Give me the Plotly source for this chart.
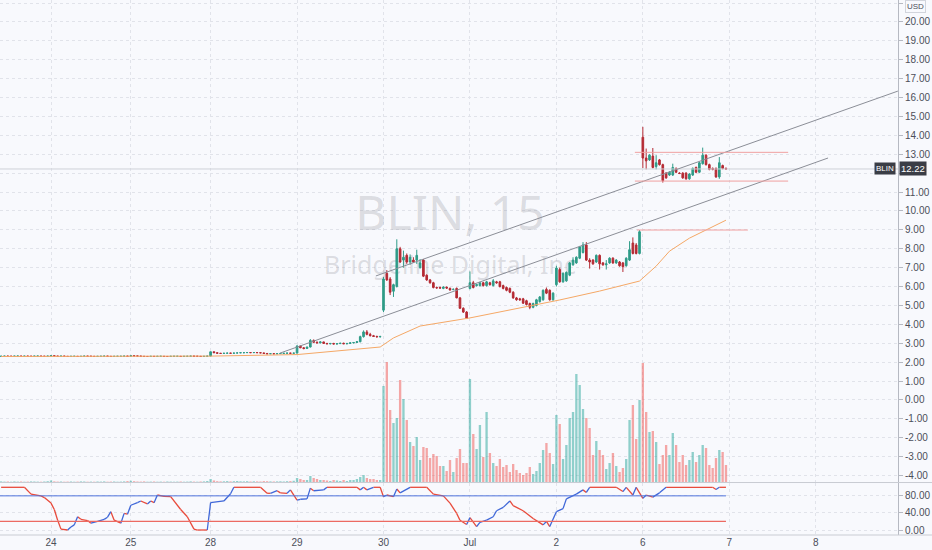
import plotly.graph_objects as go

# ---------------- time axis ----------------
day_start_bars = [0, 24, 48, 74, 100, 126, 152, 178, 204, 230]
day_labels = ["24", "25", "28", "29", "30", "Jul", "2", "6", "7", "8"]
first_bar = -15

# ---------------- price axis ticks ----------------
price_ticks = [-4, -3, -2, -1, 0, 1, 2, 3, 4, 5, 6, 7, 8, 9, 10, 11, 12, 13, 14, 15, 16, 17, 18, 19, 20, 21]
hidden_price_tick = 12   # covered by the last-price label

# ---------------- quiet sessions (closes only) ----------------
close_jun23 = [2.31, 2.32, 2.31, 2.31, 2.32, 2.32, 2.31, 2.32, 2.31, 2.31, 2.32, 2.32, 2.31, 2.31, 2.32]
close_jun24 = [2.34, 2.32, 2.31, 2.32, 2.31, 2.30, 2.31, 2.31, 2.30, 2.31, 2.32, 2.31,
               2.31, 2.30, 2.31, 2.31, 2.32, 2.31, 2.30, 2.31, 2.31, 2.31, 2.32, 2.31]
close_jun25 = [2.34, 2.33, 2.32, 2.31, 2.30, 2.30, 2.31, 2.30, 2.31, 2.31, 2.30, 2.30,
               2.31, 2.31, 2.31, 2.30, 2.31, 2.31, 2.32, 2.31, 2.31, 2.30, 2.31, 2.32]
close_jun28 = [2.55, 2.50, 2.47, 2.46, 2.47, 2.48, 2.47, 2.48, 2.49, 2.50, 2.50, 2.51, 2.50,
               2.51, 2.50, 2.49, 2.46, 2.44, 2.45, 2.44, 2.45, 2.46, 2.47, 2.48, 2.47, 2.48]

# ---------------- active sessions OHLC ----------------
jun29_open = [2.48, 2.85, 2.76, 2.72, 2.80, 3.15, 3.05, 3.02, 3.07, 2.99, 2.97, 2.99, 2.96,
              2.98, 3.00, 2.97, 2.99, 3.02, 3.04, 3.08, 3.35, 3.60, 3.47, 3.40, 3.36, 3.34]
jun29_high = [2.90, 2.88, 2.80, 2.82, 3.22, 3.20, 3.10, 3.10, 3.08, 3.02, 3.01, 3.02, 3.00,
              3.02, 3.03, 3.00, 3.04, 3.06, 3.12, 3.40, 3.68, 3.70, 3.55, 3.44, 3.40, 3.39]
jun29_low = [2.46, 2.74, 2.68, 2.70, 2.78, 3.02, 2.98, 3.00, 2.97, 2.95, 2.94, 2.95, 2.93,
             2.96, 2.96, 2.94, 2.97, 2.99, 3.01, 3.05, 3.30, 3.42, 3.36, 3.33, 3.31, 3.30]
jun29_close = [2.85, 2.76, 2.72, 2.80, 3.15, 3.05, 3.02, 3.07, 2.99, 2.97, 2.99, 2.96, 2.98,
               3.00, 2.97, 2.99, 3.02, 3.04, 3.08, 3.35, 3.60, 3.47, 3.40, 3.36, 3.34, 3.36]

jun30_open = [4.75, 6.70, 6.40, 5.75, 6.00, 8.00, 7.40, 7.65, 7.30, 7.40, 7.40, 7.00, 7.40,
              6.60, 6.35, 6.20, 5.95, 5.95, 5.90, 5.97, 5.90, 5.85, 5.90, 5.40, 4.85, 4.65]
jun30_high = [6.50, 6.87, 6.50, 6.15, 8.50, 8.10, 7.90, 7.75, 7.70, 7.55, 7.95, 7.45, 7.45,
              6.65, 6.40, 6.25, 6.00, 6.00, 6.02, 6.00, 5.95, 5.90, 5.95, 5.45, 4.90, 4.70]
jun30_low = [4.65, 6.30, 5.55, 5.45, 5.95, 7.25, 7.00, 7.20, 7.15, 7.25, 7.20, 6.95, 6.50,
             6.30, 6.15, 5.90, 5.88, 5.88, 5.86, 5.88, 5.78, 5.80, 5.38, 4.82, 4.60, 4.28]
jun30_close = [6.40, 6.35, 5.70, 6.10, 8.00, 7.30, 7.55, 7.30, 7.55, 7.30, 7.65, 7.25, 6.55,
               6.35, 6.20, 5.95, 5.93, 5.92, 5.97, 5.92, 5.82, 5.85, 5.40, 4.85, 4.65, 4.32]

jul1_open = [5.90, 6.20, 6.05, 6.05, 6.20, 6.05, 6.20, 6.05, 6.25, 6.25, 6.05, 5.95, 5.90,
             5.70, 5.40, 5.35, 5.35, 5.25, 5.10, 4.90, 5.00, 5.20, 5.30, 5.85, 5.80, 5.30]
jul1_high = [6.80, 6.30, 6.15, 6.25, 6.25, 6.30, 6.25, 6.40, 6.30, 6.30, 6.10, 6.00, 5.95,
             5.75, 5.45, 5.40, 5.40, 5.30, 5.15, 5.15, 5.35, 5.50, 5.85, 5.95, 5.85, 5.70]
jul1_low = [5.85, 5.90, 6.00, 6.00, 6.00, 6.00, 6.05, 6.00, 6.15, 5.95, 5.85, 5.75, 5.65,
            5.35, 5.25, 5.25, 5.08, 5.00, 4.80, 4.85, 4.95, 5.15, 5.25, 5.60, 5.25, 5.25]
jul1_close = [6.20, 5.95, 6.10, 6.20, 6.05, 6.25, 6.10, 6.30, 6.20, 6.00, 5.90, 5.80, 5.70,
              5.40, 5.30, 5.30, 5.12, 5.05, 4.90, 5.10, 5.30, 5.45, 5.80, 5.65, 5.30, 5.65]

jul2_open = [6.10, 6.90, 6.25, 6.30, 6.60, 7.15, 7.25, 7.50, 7.80, 8.20, 7.40, 7.40, 7.30,
             7.65, 7.25, 7.15, 7.25, 7.50, 7.25, 7.30, 7.25, 7.10, 7.40, 8.30, 8.20, 7.75]
jul2_high = [7.10, 7.00, 6.75, 6.80, 7.30, 7.55, 7.60, 8.15, 8.35, 8.35, 7.50, 7.45, 7.70,
             7.70, 7.30, 7.40, 7.55, 7.55, 7.45, 7.35, 7.30, 7.55, 8.40, 8.60, 8.30, 8.99]
jul2_low = [6.00, 6.20, 6.20, 6.25, 6.55, 7.10, 7.20, 7.45, 7.75, 7.35, 6.95, 7.15, 7.25,
            6.90, 7.10, 6.90, 7.20, 7.20, 7.20, 7.05, 6.77, 7.05, 7.35, 7.70, 7.70, 7.70]
jul2_close = [6.98, 6.25, 6.70, 6.75, 7.25, 7.40, 7.55, 8.10, 8.20, 7.40, 7.30, 7.20, 7.65,
              7.20, 7.15, 7.20, 7.50, 7.25, 7.40, 7.10, 7.05, 7.50, 7.95, 7.75, 7.75, 8.90]

jul6_open = [13.90, 12.80, 12.70, 12.90, 12.35, 12.70, 12.45, 12.00, 11.90, 11.90, 12.25, 12.00, 12.00,
             12.00, 11.70, 11.90, 12.30, 12.05, 12.50, 12.95, 12.45, 12.25, 12.25, 11.80, 12.40, 12.25]
jul6_high = [14.45, 13.30, 13.00, 13.33, 12.95, 12.75, 12.50, 12.05, 12.10, 12.50, 12.30, 12.05, 12.05,
             12.05, 12.00, 12.30, 12.35, 12.60, 13.35, 13.00, 12.50, 12.30, 12.30, 12.85, 12.45, 12.30]
jul6_low = [12.27, 12.20, 12.65, 12.25, 12.20, 12.40, 11.50, 11.70, 11.85, 11.85, 12.00, 11.95, 11.70,
            11.65, 11.65, 11.85, 12.00, 12.00, 12.45, 12.40, 12.15, 12.15, 11.75, 11.70, 12.20, 12.18]
jul6_close = [12.80, 12.65, 12.95, 12.30, 12.55, 12.45, 11.60, 11.75, 12.05, 12.30, 12.05, 11.98, 11.75,
              11.70, 11.95, 12.25, 12.05, 12.55, 12.95, 12.45, 12.20, 12.20, 11.80, 12.55, 12.25, 12.22]

# ---------------- volume (relative units) ----------------
vol_jun23 = [0.6, 0.4, 0.5, 0.3, 0.6, 0.4, 0.5, 0.3, 0.4, 0.6, 0.5, 0.4, 0.3, 0.5, 0.8]
vol_jun24 = [1.5, 0.6, 0.4, 0.5, 0.3, 0.4, 0.5, 0.3, 0.4, 0.6, 0.5, 0.3,
             0.4, 0.3, 0.5, 0.4, 0.6, 0.3, 0.4, 0.5, 0.3, 0.4, 0.6, 0.9]
vol_jun25 = [1.2, 0.8, 0.5, 0.4, 0.6, 0.3, 0.4, 0.5, 0.3, 0.4, 0.3, 0.5,
             0.4, 0.3, 0.4, 0.5, 0.3, 0.4, 0.6, 0.4, 0.3, 0.5, 0.6, 1.0]
vol_jun28 = [3.0, 1.5, 0.8, 0.6, 0.7, 0.9, 0.6, 0.8, 1.0, 0.7, 0.6, 0.8, 0.5,
             0.7, 0.6, 0.5, 0.9, 0.8, 0.6, 0.5, 0.6, 0.7, 0.5, 0.8, 0.9, 1.2]
vol_jun29 = [4, 3, 2, 2, 6, 4, 3, 2, 2, 1.5, 1, 2, 1.5, 1, 2, 1, 2, 2, 3, 5, 7, 4, 3, 3, 2, 2]
vol_jun30 = [96, 120, 72, 59, 64, 102, 83, 62, 40, 36, 45, 22, 35, 34, 24, 28, 26, 16, 16, 11, 22, 10, 24, 33, 19, 19]
vol_jul1 = [103, 48, 33, 57, 25, 70, 29, 19, 16, 23, 15, 17, 10, 18, 12, 9, 7, 9, 15, 8, 11, 19, 32, 39, 29, 18]
vol_jul2 = [67, 58, 23, 37, 64, 70, 108, 97, 73, 64, 54, 27, 41, 32, 27, 13, 19, 29, 16, 10, 14, 23, 62, 77, 43, 82]
vol_jul6 = [119, 70, 50, 51, 40, 18, 27, 37, 27, 49, 37, 20, 27, 17, 22, 30, 20, 27, 37, 34, 17, 14, 24, 32, 30, 17]

# ---------------- moving average ----------------
ma_bar = [-15, 48, 74, 99, 103, 111, 126, 141, 153, 165, 177, 182, 186, 192, 198, 203]
ma_val = [2.30, 2.32, 2.40, 2.80, 3.28, 3.91, 4.34, 4.86, 5.29, 5.76, 6.29, 7.08, 7.87, 8.56, 9.09, 9.51]

# ---------------- stochastic oscillator ----------------
stoch_bar = [-15, -8, -6, -3, -2, 0, 1, 2, 3, 5,
             6, 7, 8, 9, 11, 12, 14, 16, 17, 18,
             19, 21, 22, 23, 24, 26, 27, 29, 30, 31,
             32, 34, 36, 39, 41, 43, 44, 47, 48, 52,
             54, 55, 63, 65, 66, 68, 69, 71, 72, 74,
             75, 77, 78, 79, 82, 83, 92, 93, 94, 95,
             97, 99, 100, 101, 103, 104, 105, 108, 113, 115,
             118, 120, 122, 123, 125, 126, 128, 129, 131, 133,
             134, 136, 138, 139, 142, 145, 148, 149, 150, 152,
             154, 155, 158, 160, 161, 162, 170, 172, 173, 175,
             176, 178, 179, 181, 183, 185, 199, 200, 201, 203]
stoch_val = [100, 100, 84, 80, 76, 63, 48, 23, 2, 0,
             7, 12, 31, 25, 22, 16, 20, 25, 30, 43,
             23, 16, 39, 37, 58, 64, 68, 61, 68, 64,
             82, 79, 78, 48, 31, 2, 0, 0, 64, 68,
             85, 100, 100, 86, 86, 92, 87, 86, 94, 70,
             72, 73, 98, 92, 94, 100, 100, 94, 100, 94,
             100, 100, 78, 82, 78, 96, 87, 100, 100, 84,
             80, 63, 39, 23, 13, 29, 8, 18, 23, 31,
             45, 53, 68, 57, 45, 27, 12, 20, 8, 43,
             50, 73, 84, 94, 88, 100, 100, 90, 100, 82,
             100, 74, 82, 77, 87, 100, 100, 95, 100, 100]
stoch_upper_level = 80
stoch_lower_level = 20

# ---------------- drawings ----------------
channel_upper = [(97.7, 6.56), (254.7, 16.34)]
channel_lower = [(68.9, 2.48), (233.7, 12.80)]
red_levels = [(176.2, 209.6, 8.99), (175.6, 221.7, 13.10), (175.6, 221.7, 11.58)]
last_price = 12.22
symbol = "BLIN"
watermark_title = "BLIN, 15"
watermark_sub = "Bridgeline Digital, Inc"
watermark_pos = (120, 9.62, 6.98)

# ---------------- assemble ----------------
opens, highs, lows, closes = [], [], [], []
prev = close_jun23[0]
for v in close_jun23 + close_jun24 + close_jun25 + close_jun28:
    opens.append(prev); closes.append(v); highs.append(max(prev, v)); lows.append(min(prev, v))
    prev = v
for o_, h_, l_, c_ in [(jun29_open, jun29_high, jun29_low, jun29_close),
                       (jun30_open, jun30_high, jun30_low, jun30_close),
                       (jul1_open, jul1_high, jul1_low, jul1_close),
                       (jul2_open, jul2_high, jul2_low, jul2_close),
                       (jul6_open, jul6_high, jul6_low, jul6_close)]:
    opens += o_; highs += h_; lows += l_; closes += c_
bars = list(range(first_bar, first_bar + len(closes)))
volume = vol_jun23 + vol_jun24 + vol_jun25 + vol_jun28 + vol_jun29 + vol_jun30 + vol_jul1 + vol_jul2 + vol_jul6

BG = "#f8f9fd"
GRID = "#e1e3ea"
AXIS = "#b6b9c2"
TXT = "#4c4f5a"
UP = "#2f9c88"
DN = "#b52a33"
VUP = "rgba(38,166,154,0.5)"
VDN = "rgba(239,83,80,0.5)"
FONT = "Liberation Sans"

XR = [-15.338, 254.737]
YR = [-4.34, 21.16]

vol_colors = [VUP if c >= o else VDN for o, c in zip(opens, closes)]
price_ticktext = ["" if t == hidden_price_tick else f"{t:.2f}" for t in price_ticks]

fig = go.Figure()

# watermark (base layer)
fig.add_trace(go.Scatter(
    x=[watermark_pos[0], watermark_pos[0]], y=[watermark_pos[1], watermark_pos[2]],
    mode="text", text=[watermark_title, watermark_sub],
    textfont=dict(size=[48, 25], color="rgba(120,123,134,0.24)", family="Noto Sans"),
    textposition="middle center", hoverinfo="skip", showlegend=False,
    xaxis="x", yaxis="y"))

# volume overlay
fig.add_trace(go.Bar(x=bars, y=volume, marker=dict(color=vol_colors, line=dict(width=0)),
                     width=0.7, xaxis="x", yaxis="y2", hoverinfo="skip", showlegend=False))

# candles
fig.add_trace(go.Candlestick(
    x=bars, open=opens, high=highs, low=lows, close=closes,
    increasing=dict(line=dict(color=UP, width=1), fillcolor=UP),
    decreasing=dict(line=dict(color=DN, width=1), fillcolor=DN),
    whiskerwidth=0, xaxis="x", yaxis="y3", hoverinfo="skip", showlegend=False))

# moving average
fig.add_trace(go.Scatter(x=ma_bar, y=ma_val, mode="lines",
                         line=dict(color="#f5a866", width=1),
                         xaxis="x", yaxis="y3", hoverinfo="skip", showlegend=False))

# stochastic: blue while rising, red otherwise
bx, by, rx, ry = [], [], [], []
for i in range(len(stoch_val) - 1):
    seg_x = [stoch_bar[i], stoch_bar[i + 1], None]
    seg_y = [stoch_val[i], stoch_val[i + 1], None]
    if stoch_val[i + 1] > stoch_val[i]:
        bx += seg_x; by += seg_y
    else:
        rx += seg_x; ry += seg_y
fig.add_trace(go.Scatter(x=rx, y=ry, mode="lines", line=dict(color="#e84b3c", width=1.3),
                         xaxis="x2", yaxis="y4", hoverinfo="skip", showlegend=False))
fig.add_trace(go.Scatter(x=bx, y=by, mode="lines", line=dict(color="#3f67d8", width=1.3),
                         xaxis="x2", yaxis="y4", hoverinfo="skip", showlegend=False))

shapes = []
# price line
shapes.append(dict(type="line", xref="x", yref="y", x0=XR[0], x1=XR[1], y0=last_price, y1=last_price,
                   line=dict(color="#cfd1d8", width=1)))
for (a, b) in (channel_upper, channel_lower):
    shapes.append(dict(type="line", xref="x", yref="y", x0=a[0], y0=a[1], x1=b[0], y1=b[1],
                       line=dict(color="#8b8e97", width=1)))
for x0, x1, p in red_levels:
    shapes.append(dict(type="line", xref="x", yref="y", x0=x0, x1=x1, y0=p, y1=p,
                       line=dict(color="#f0a0a0", width=1)))
shapes.append(dict(type="line", xref="x2", yref="y4", x0=XR[0], x1=stoch_bar[-1],
                   y0=stoch_upper_level, y1=stoch_upper_level, line=dict(color="#4f73dc", width=1)))
shapes.append(dict(type="line", xref="x2", yref="y4", x0=XR[0], x1=stoch_bar[-1],
                   y0=stoch_lower_level, y1=stoch_lower_level, line=dict(color="#ec6a62", width=1.2)))
# pane separators
shapes.append(dict(type="line", xref="paper", yref="paper", x0=0, x1=1.04, y0=0.0981, y1=0.0981,
                   line=dict(color="#c9ccd3", width=1)))
shapes.append(dict(type="line", xref="paper", yref="paper", x0=0, x1=1.04, y0=0, y1=0,
                   line=dict(color="#c9ccd3", width=1)))

annotations = [
    dict(xref="paper", yref="paper", x=1.019, y=0.987, text="USD", showarrow=False,
         font=dict(size=8, color=TXT, family=FONT), bgcolor=BG, bordercolor="#d1d4dc",
         borderwidth=1, borderpad=1, xanchor="center", yanchor="middle"),
    dict(xref="paper", yref="y", x=0.9978, y=last_price, text=symbol, showarrow=False,
         font=dict(size=8, color="white", family=FONT), bgcolor="#3a3d46", borderpad=1,
         xanchor="right", yanchor="middle"),
    dict(xref="paper", yref="y", x=1.001, y=last_price, text=f"{last_price:.2f}", showarrow=False,
         font=dict(size=9.5, color="white", family=FONT), bgcolor="#3a3d46", borderpad=1,
         xanchor="left", yanchor="middle"),
]

tickfont = dict(size=10, color=TXT, family=FONT)
fig.update_layout(
    width=932, height=550, margin=dict(l=0, r=34, t=0, b=15),
    paper_bgcolor=BG, plot_bgcolor=BG, showlegend=False,
    shapes=shapes, annotations=annotations,
    xaxis=dict(domain=[0, 1], anchor="y", range=XR, tickmode="array", tickvals=day_start_bars,
               showticklabels=False, showgrid=True, gridcolor=GRID, griddash="3px,3px",
               zeroline=False, ticks="", rangeslider=dict(visible=False)),
    yaxis=dict(domain=[0.0991, 1], anchor="x", side="right", range=YR, tickmode="array",
               tickvals=price_ticks, ticktext=price_ticktext,
               showgrid=True, gridcolor=GRID, griddash="3px,3px", zeroline=False,
               showline=True, linecolor=AXIS, ticks="outside", ticklen=4, tickcolor=AXIS,
               tickfont=tickfont),
    yaxis2=dict(overlaying="y", range=[0, 482], visible=False),
    yaxis3=dict(overlaying="y", range=YR, visible=False),
    xaxis2=dict(domain=[0, 1], anchor="y4", matches="x", tickmode="array", tickvals=day_start_bars,
                ticktext=day_labels, showgrid=True, gridcolor=GRID, griddash="3px,3px",
                zeroline=False, ticks="", tickfont=tickfont),
    yaxis4=dict(domain=[0, 0.0972], anchor="x2", side="right", range=[-11.7, 110.1],
                tickmode="array", tickvals=[0, 40, 80], tickformat=".2f", showgrid=True,
                gridcolor=GRID, griddash="3px,3px", zeroline=False, showline=True, linecolor=AXIS,
                ticks="outside", ticklen=4, tickcolor=AXIS, tickfont=tickfont),
)

fig.write_html("out.html", config={"displayModeBar": False},
               post_script="document.body.style.margin='0';document.body.style.background='#f8f9fd';")
